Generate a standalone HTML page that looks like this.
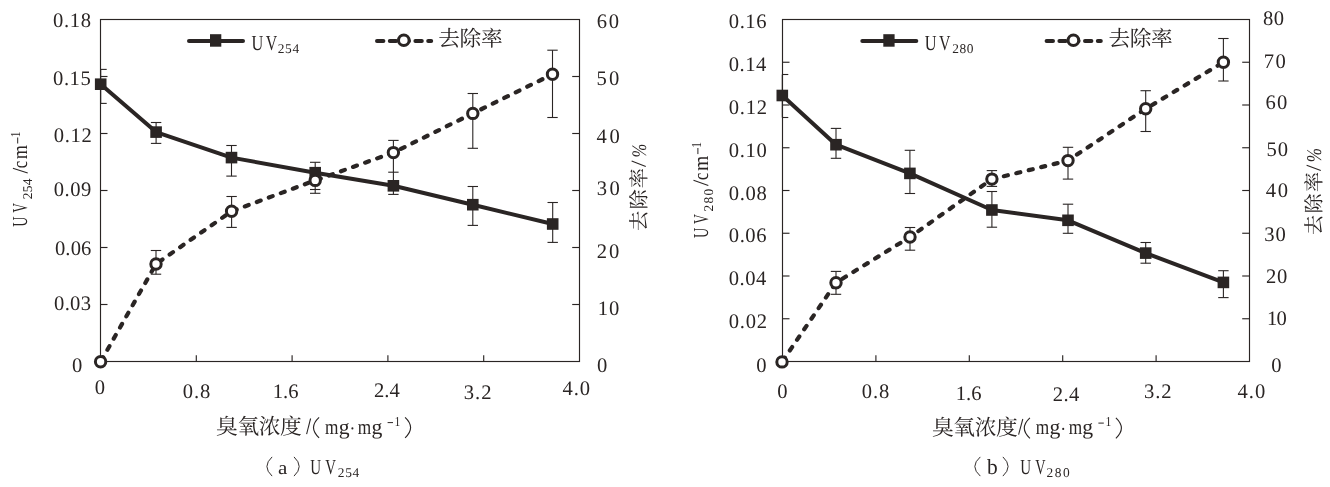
<!DOCTYPE html>
<html lang="zh"><head><meta charset="utf-8"><title>UV254 / UV280</title>
<style>html,body{margin:0;padding:0;background:#fff}svg{display:block;will-change:transform}text{font-family:"Liberation Serif",serif;fill:#2a2524;stroke:none;white-space:pre;text-rendering:geometricPrecision}text.cjk{font-family:"Liberation Serif","Noto Serif CJK SC",serif}</style></head><body>
<svg role="img" aria-label="UV254, UV280 and removal rate versus ozone dose" width="1330" height="487" viewBox="0 0 1330 487" stroke="#2a2524" fill="#2a2524">
<rect x="0" y="0" width="1330" height="487" fill="#fff" stroke="none"/>
<g id="chart-a">
<rect x="100.5" y="19.5" width="479" height="342" fill="none" stroke-width="1.15"/>
<line x1="100.5" y1="76.5" x2="107.5" y2="76.5" stroke-width="1.15"/>
<line x1="572.2" y1="76.5" x2="579.5" y2="76.5" stroke-width="1.15"/>
<line x1="100.5" y1="133.5" x2="107.5" y2="133.5" stroke-width="1.15"/>
<line x1="572.2" y1="133.5" x2="579.5" y2="133.5" stroke-width="1.15"/>
<line x1="100.5" y1="190.5" x2="107.5" y2="190.5" stroke-width="1.15"/>
<line x1="572.2" y1="190.5" x2="579.5" y2="190.5" stroke-width="1.15"/>
<line x1="100.5" y1="247.5" x2="107.5" y2="247.5" stroke-width="1.15"/>
<line x1="572.2" y1="247.5" x2="579.5" y2="247.5" stroke-width="1.15"/>
<line x1="100.5" y1="304.5" x2="107.5" y2="304.5" stroke-width="1.15"/>
<line x1="572.2" y1="304.5" x2="579.5" y2="304.5" stroke-width="1.15"/>
<line x1="196.3" y1="361.5" x2="196.3" y2="355.3" stroke-width="1.15"/>
<line x1="292.1" y1="361.5" x2="292.1" y2="355.3" stroke-width="1.15"/>
<line x1="387.9" y1="361.5" x2="387.9" y2="355.3" stroke-width="1.15"/>
<line x1="483.7" y1="361.5" x2="483.7" y2="355.3" stroke-width="1.15"/>
<line x1="100.7" y1="69.4" x2="100.7" y2="103.4" stroke-width="1.1"/>
<line x1="100.7" y1="69.4" x2="106.7" y2="69.4" stroke-width="1.1"/>
<line x1="100.7" y1="103.4" x2="106.7" y2="103.4" stroke-width="1.1"/>
<line x1="156.1" y1="122.5" x2="156.1" y2="143.4" stroke-width="1.1"/>
<line x1="150.9" y1="122.5" x2="161.3" y2="122.5" stroke-width="1.1"/>
<line x1="150.9" y1="143.4" x2="161.3" y2="143.4" stroke-width="1.1"/>
<line x1="231.5" y1="145.5" x2="231.5" y2="176.1" stroke-width="1.1"/>
<line x1="226.3" y1="145.5" x2="236.7" y2="145.5" stroke-width="1.1"/>
<line x1="226.3" y1="176.1" x2="236.7" y2="176.1" stroke-width="1.1"/>
<line x1="315.2" y1="162.3" x2="315.2" y2="193.3" stroke-width="1.1"/>
<line x1="310" y1="162.3" x2="320.4" y2="162.3" stroke-width="1.1"/>
<line x1="310" y1="189.5" x2="320.4" y2="189.5" stroke-width="1.1"/>
<line x1="310" y1="193.3" x2="320.4" y2="193.3" stroke-width="1.1"/>
<line x1="393.4" y1="140.4" x2="393.4" y2="194.4" stroke-width="1.1"/>
<line x1="388.2" y1="140.4" x2="398.6" y2="140.4" stroke-width="1.1"/>
<line x1="388.2" y1="172.2" x2="398.6" y2="172.2" stroke-width="1.1"/>
<line x1="388.2" y1="194.4" x2="398.6" y2="194.4" stroke-width="1.1"/>
<line x1="472.8" y1="186.5" x2="472.8" y2="225.4" stroke-width="1.1"/>
<line x1="467.6" y1="186.5" x2="478" y2="186.5" stroke-width="1.1"/>
<line x1="467.6" y1="225.4" x2="478" y2="225.4" stroke-width="1.1"/>
<line x1="552.7" y1="202.5" x2="552.7" y2="242.4" stroke-width="1.1"/>
<line x1="547.5" y1="202.5" x2="557.9" y2="202.5" stroke-width="1.1"/>
<line x1="547.5" y1="242.4" x2="557.9" y2="242.4" stroke-width="1.1"/>
<line x1="156" y1="250.5" x2="156" y2="274.2" stroke-width="1.1"/>
<line x1="150.8" y1="250.5" x2="161.2" y2="250.5" stroke-width="1.1"/>
<line x1="150.8" y1="274.2" x2="161.2" y2="274.2" stroke-width="1.1"/>
<line x1="231.6" y1="196.5" x2="231.6" y2="227.4" stroke-width="1.1"/>
<line x1="226.4" y1="196.5" x2="236.8" y2="196.5" stroke-width="1.1"/>
<line x1="226.4" y1="227.4" x2="236.8" y2="227.4" stroke-width="1.1"/>
<line x1="472.8" y1="93.5" x2="472.8" y2="148.3" stroke-width="1.1"/>
<line x1="467.6" y1="93.5" x2="478" y2="93.5" stroke-width="1.1"/>
<line x1="467.6" y1="148.3" x2="478" y2="148.3" stroke-width="1.1"/>
<line x1="552.5" y1="50.2" x2="552.5" y2="117.5" stroke-width="1.1"/>
<line x1="547.3" y1="50.2" x2="557.7" y2="50.2" stroke-width="1.1"/>
<line x1="547.3" y1="117.5" x2="557.7" y2="117.5" stroke-width="1.1"/>
<polyline fill="none" stroke-width="4.0" stroke-linejoin="round" points="100.7,84.2 156.1,132.1 231.5,157.6 315.2,172.7 393.4,185.8 472.8,204.7 552.7,224"/>
<rect x="94.9" y="78.4" width="11.6" height="11.6" fill="#2a2524" stroke="none"/>
<rect x="150.3" y="126.3" width="11.6" height="11.6" fill="#2a2524" stroke="none"/>
<rect x="225.7" y="151.8" width="11.6" height="11.6" fill="#2a2524" stroke="none"/>
<rect x="309.4" y="166.9" width="11.6" height="11.6" fill="#2a2524" stroke="none"/>
<rect x="387.6" y="180" width="11.6" height="11.6" fill="#2a2524" stroke="none"/>
<rect x="467" y="198.9" width="11.6" height="11.6" fill="#2a2524" stroke="none"/>
<rect x="546.9" y="218.2" width="11.6" height="11.6" fill="#2a2524" stroke="none"/>
<polyline fill="none" stroke-width="4.2" stroke-dasharray="4.1 8.7" stroke-dashoffset="-1.05" stroke-linecap="round" points="100.6,361.8 156,264 231.6,211.3 315.2,180.4 393.4,152.6 472.8,113.4 552.5,74.3"/>
<circle cx="100.6" cy="361.8" r="5.2" fill="#fff" stroke-width="3"/>
<circle cx="156" cy="264" r="5.2" fill="#fff" stroke-width="3"/>
<circle cx="231.6" cy="211.3" r="5.2" fill="#fff" stroke-width="3"/>
<circle cx="315.2" cy="180.4" r="5.2" fill="#fff" stroke-width="3"/>
<circle cx="393.4" cy="152.6" r="5.2" fill="#fff" stroke-width="3"/>
<circle cx="472.8" cy="113.4" r="5.2" fill="#fff" stroke-width="3"/>
<circle cx="552.5" cy="74.3" r="5.2" fill="#fff" stroke-width="3"/>
<line x1="189" y1="40.9" x2="243" y2="40.9" stroke-width="4" stroke-linecap="round"/>
<rect x="210" y="34.2" width="11.3" height="12.5" stroke="none"/>
<text font-size="21.4" stroke="#2a2524" stroke-width="0.55" transform="translate(251.46 49.9) scale(0.7626 1)" x="0" y="0">U</text>
<text font-size="21.4" stroke="#2a2524" stroke-width="0.6" transform="translate(265.82 49.9) scale(0.7413 1)" x="0" y="0">V</text>
<text font-size="13.4" x="277.81 285.11 292.41" y="53.1">254</text>
<line x1="377" y1="40.9" x2="431.2" y2="40.9" stroke-width="4" stroke-dasharray="6.4 6.4" stroke-linecap="round"/>
<circle cx="403.8" cy="40.2" r="5.3" fill="#fff" stroke-width="3.0"/>
<g stroke="none">
<text class="cjk" font-size="21.7" x="438.21 459.56 480.91" y="46">去除率</text>
</g>
<text font-size="20.6" x="53.12 64.06 69.84 80.78" y="27.2">0.18</text>
<text font-size="20.6" x="53.12 63.93 69.59 80.4" y="84.9">0.15</text>
<text font-size="20.6" x="53.72 64.71 70.55 81.54" y="141.9">0.12</text>
<text font-size="20.6" x="53.72 64.54 70.22 81.04" y="195.5">0.09</text>
<text font-size="20.6" x="54.92 65.36 70.66 81.11" y="254.9">0.06</text>
<text font-size="20.6" x="54.02 64.63 70.09 80.7" y="309.8">0.03</text>
<text font-size="20.6" x="72.02" y="371.9">0</text>
<text font-size="20.6" x="596.81 608.68" y="27.7">60</text>
<text font-size="20.6" x="596.5 608.98" y="85">50</text>
<text font-size="20.6" x="596.6 609.58" y="142.5">40</text>
<text font-size="20.6" x="596.81 609.58" y="194.8">30</text>
<text font-size="20.6" x="596.79 608.88" y="258.1">20</text>
<text font-size="20.6" x="597.79 608.88" y="314.6">10</text>
<text font-size="20.6" x="597.12" y="371.9">0</text>
<text font-size="20.6" x="94.82" y="393.5">0</text>
<text font-size="20.6" x="182.82 193.93 199.88" y="397.8">0.8</text>
<text font-size="20.6" x="272.69 283.08 288.31" y="397.8">1.6</text>
<text font-size="20.6" x="373.89 384.33 389.62" y="397">2.4</text>
<text font-size="20.6" x="463.71 475.1 481.34" y="399">3.2</text>
<text font-size="20.6" x="562.5 573.72 579.78" y="395.1">4.0</text>
<g stroke="none">
<text class="cjk" font-size="21.7" x="216.08 237.38 258.68 279.98" y="434.1">臭氧浓度</text>
</g>
<line x1="306.6" y1="434.1" x2="310.6" y2="418.5" stroke-width="1.05"/>
<path fill="none" stroke-width="1.15" d="M319.1 417.3 Q307.9 427.6 319.1 437.9"/>
<text font-size="21.4" stroke="#2a2524" stroke-width="0.44" transform="translate(325.04 433.5) scale(0.8070 1)" x="0" y="0">m</text>
<text font-size="21.4" transform="translate(338.67 433.5) scale(1.0136 1)" x="0" y="0">g</text>
<circle cx="352.4" cy="428.4" r="1.05" stroke="none"/>
<text font-size="21.4" stroke="#2a2524" stroke-width="0.44" transform="translate(357.84 433.5) scale(0.8070 1)" x="0" y="0">m</text>
<text font-size="21.4" transform="translate(371.47 433.5) scale(1.0136 1)" x="0" y="0">g</text>
<line x1="387.6" y1="422.6" x2="393" y2="422.6" stroke-width="1"/>
<text font-size="13.8" stroke="#2a2524" stroke-width="0.36" transform="translate(394.58 425.8) scale(0.8439 1)" x="0" y="0">1</text>
<path fill="none" stroke-width="1.15" d="M405.1 417.3 Q416.1 427.6 405.1 437.9"/>
<path fill="none" stroke-width="0.95" d="M272.1 456.9 Q261.7 466.5 272.1 476.1"/>
<text font-size="19" transform="translate(277.96 473.9) scale(1.1059 1)" x="0" y="0">a</text>
<path fill="none" stroke-width="0.95" d="M294 456.9 Q304.4 466.5 294 476.1"/>
<text font-size="21.4" stroke="#2a2524" stroke-width="0.69" transform="translate(310.29 473.9) scale(0.7008 1)" x="0" y="0">U</text>
<text font-size="21.4" stroke="#2a2524" stroke-width="0.7" transform="translate(325.13 473.9) scale(0.6945 1)" x="0" y="0">V</text>
<text font-size="13.4" x="337.81 345.16 352.51" y="476.9">254</text>
<g transform="translate(27.2 0) rotate(-90)">
<text font-size="21.4" stroke="#2a2524" stroke-width="0.78" transform="translate(-226.7 0) scale(0.6595 1)" x="0" y="0">U</text>
<text font-size="21.4" stroke="#2a2524" stroke-width="0.8" transform="translate(-212.65 0) scale(0.6278 1)" x="0" y="0">V</text>
<text font-size="13.4" x="-199.19 -192.19 -185.19" y="4.9">254</text>
<line x1="-173.1" y1="0.5" x2="-168.2" y2="-14.3" stroke-width="1.05"/>
<text font-size="21.4" stroke="#2a2524" stroke-width="0.52" transform="translate(-168.13 0) scale(0.7726 1)" x="0" y="0">c</text>
<text font-size="21.4" stroke="#2a2524" stroke-width="0.34" transform="translate(-159.18 0) scale(0.8511 1)" x="0" y="0">m</text>
<line x1="-143.5" y1="-9.5" x2="-137.5" y2="-9.5" stroke-width="1"/>
<text font-size="13.8" stroke="#2a2524" stroke-width="0.41" transform="translate(-137.3 -6.8) scale(0.8233 1)" x="0" y="0">1</text>
</g>
<g transform="translate(646.25 0) rotate(-90)">
<g stroke="none">
<text class="cjk" font-size="20.2" x="-231.02 -209.62 -188.22" y="0">去除率</text>
</g>
<line x1="-166.5" y1="-0.5" x2="-160.9" y2="-14.6" stroke-width="1.05"/>
<text font-size="20.6" font-style="italic" stroke="#2a2524" stroke-width="0.45" transform="translate(-157.55 -0.2) scale(0.8037 1)" x="0" y="0">%</text>
</g>
</g>
<g id="chart-b">
<rect x="782.5" y="19.5" width="467" height="342" fill="none" stroke-width="1.15"/>
<line x1="782.5" y1="62.25" x2="789.5" y2="62.25" stroke-width="1.15"/>
<line x1="1242.2" y1="62.25" x2="1249.5" y2="62.25" stroke-width="1.15"/>
<line x1="782.5" y1="105" x2="789.5" y2="105" stroke-width="1.15"/>
<line x1="1242.2" y1="105" x2="1249.5" y2="105" stroke-width="1.15"/>
<line x1="782.5" y1="147.75" x2="789.5" y2="147.75" stroke-width="1.15"/>
<line x1="1242.2" y1="147.75" x2="1249.5" y2="147.75" stroke-width="1.15"/>
<line x1="782.5" y1="190.5" x2="789.5" y2="190.5" stroke-width="1.15"/>
<line x1="1242.2" y1="190.5" x2="1249.5" y2="190.5" stroke-width="1.15"/>
<line x1="782.5" y1="233.25" x2="789.5" y2="233.25" stroke-width="1.15"/>
<line x1="1242.2" y1="233.25" x2="1249.5" y2="233.25" stroke-width="1.15"/>
<line x1="782.5" y1="276" x2="789.5" y2="276" stroke-width="1.15"/>
<line x1="1242.2" y1="276" x2="1249.5" y2="276" stroke-width="1.15"/>
<line x1="782.5" y1="318.75" x2="789.5" y2="318.75" stroke-width="1.15"/>
<line x1="1242.2" y1="318.75" x2="1249.5" y2="318.75" stroke-width="1.15"/>
<line x1="875.9" y1="361.5" x2="875.9" y2="355.3" stroke-width="1.15"/>
<line x1="969.3" y1="361.5" x2="969.3" y2="355.3" stroke-width="1.15"/>
<line x1="1062.7" y1="361.5" x2="1062.7" y2="355.3" stroke-width="1.15"/>
<line x1="1156.1" y1="361.5" x2="1156.1" y2="355.3" stroke-width="1.15"/>
<line x1="782.3" y1="74.5" x2="782.3" y2="117.5" stroke-width="1.1"/>
<line x1="782.3" y1="74.5" x2="788.3" y2="74.5" stroke-width="1.1"/>
<line x1="782.3" y1="117.5" x2="788.3" y2="117.5" stroke-width="1.1"/>
<line x1="836" y1="128.4" x2="836" y2="158.3" stroke-width="1.1"/>
<line x1="830.8" y1="128.4" x2="841.2" y2="128.4" stroke-width="1.1"/>
<line x1="830.8" y1="158.3" x2="841.2" y2="158.3" stroke-width="1.1"/>
<line x1="909.9" y1="150.3" x2="909.9" y2="193.5" stroke-width="1.1"/>
<line x1="904.7" y1="150.3" x2="915.1" y2="150.3" stroke-width="1.1"/>
<line x1="904.7" y1="193.5" x2="915.1" y2="193.5" stroke-width="1.1"/>
<line x1="991.9" y1="191.5" x2="991.9" y2="227.2" stroke-width="1.1"/>
<line x1="986.7" y1="191.5" x2="997.1" y2="191.5" stroke-width="1.1"/>
<line x1="986.7" y1="227.2" x2="997.1" y2="227.2" stroke-width="1.1"/>
<line x1="1068" y1="204.2" x2="1068" y2="233.3" stroke-width="1.1"/>
<line x1="1062.8" y1="204.2" x2="1073.2" y2="204.2" stroke-width="1.1"/>
<line x1="1062.8" y1="233.3" x2="1073.2" y2="233.3" stroke-width="1.1"/>
<line x1="1145.7" y1="242.5" x2="1145.7" y2="263.2" stroke-width="1.1"/>
<line x1="1140.5" y1="242.5" x2="1150.9" y2="242.5" stroke-width="1.1"/>
<line x1="1140.5" y1="263.2" x2="1150.9" y2="263.2" stroke-width="1.1"/>
<line x1="1223.4" y1="270.7" x2="1223.4" y2="297.6" stroke-width="1.1"/>
<line x1="1218.2" y1="270.7" x2="1228.6" y2="270.7" stroke-width="1.1"/>
<line x1="1218.2" y1="297.6" x2="1228.6" y2="297.6" stroke-width="1.1"/>
<line x1="836" y1="271.4" x2="836" y2="294.3" stroke-width="1.1"/>
<line x1="830.8" y1="271.4" x2="841.2" y2="271.4" stroke-width="1.1"/>
<line x1="830.8" y1="294.3" x2="841.2" y2="294.3" stroke-width="1.1"/>
<line x1="910" y1="227.5" x2="910" y2="250.2" stroke-width="1.1"/>
<line x1="904.8" y1="227.5" x2="915.2" y2="227.5" stroke-width="1.1"/>
<line x1="904.8" y1="250.2" x2="915.2" y2="250.2" stroke-width="1.1"/>
<line x1="991.9" y1="170.6" x2="991.9" y2="186.4" stroke-width="1.1"/>
<line x1="986.7" y1="170.6" x2="997.1" y2="170.6" stroke-width="1.1"/>
<line x1="986.7" y1="186.4" x2="997.1" y2="186.4" stroke-width="1.1"/>
<line x1="1068" y1="147.3" x2="1068" y2="179.1" stroke-width="1.1"/>
<line x1="1062.8" y1="147.3" x2="1073.2" y2="147.3" stroke-width="1.1"/>
<line x1="1062.8" y1="179.1" x2="1073.2" y2="179.1" stroke-width="1.1"/>
<line x1="1145.7" y1="90.7" x2="1145.7" y2="131.5" stroke-width="1.1"/>
<line x1="1140.5" y1="90.7" x2="1150.9" y2="90.7" stroke-width="1.1"/>
<line x1="1140.5" y1="131.5" x2="1150.9" y2="131.5" stroke-width="1.1"/>
<line x1="1223.4" y1="38.5" x2="1223.4" y2="81" stroke-width="1.1"/>
<line x1="1218.2" y1="38.5" x2="1228.6" y2="38.5" stroke-width="1.1"/>
<line x1="1218.2" y1="81" x2="1228.6" y2="81" stroke-width="1.1"/>
<polyline fill="none" stroke-width="4.0" stroke-linejoin="round" points="782.3,95.5 836,144.7 909.9,173.4 991.9,210 1068,220.3 1145.7,253.1 1223.4,282.4"/>
<rect x="776.5" y="89.7" width="11.6" height="11.6" fill="#2a2524" stroke="none"/>
<rect x="830.2" y="138.9" width="11.6" height="11.6" fill="#2a2524" stroke="none"/>
<rect x="904.1" y="167.6" width="11.6" height="11.6" fill="#2a2524" stroke="none"/>
<rect x="986.1" y="204.2" width="11.6" height="11.6" fill="#2a2524" stroke="none"/>
<rect x="1062.2" y="214.5" width="11.6" height="11.6" fill="#2a2524" stroke="none"/>
<rect x="1139.9" y="247.3" width="11.6" height="11.6" fill="#2a2524" stroke="none"/>
<rect x="1217.6" y="276.6" width="11.6" height="11.6" fill="#2a2524" stroke="none"/>
<polyline fill="none" stroke-width="4.2" stroke-dasharray="4.1 8.7" stroke-dashoffset="-1.05" stroke-linecap="round" points="782,361.9 836,282.7 910,237 991.9,179.1 1068,160.6 1145.7,108.8 1223.4,62.2"/>
<circle cx="782" cy="361.9" r="5.2" fill="#fff" stroke-width="3"/>
<circle cx="836" cy="282.7" r="5.2" fill="#fff" stroke-width="3"/>
<circle cx="910" cy="237" r="5.2" fill="#fff" stroke-width="3"/>
<circle cx="991.9" cy="179.1" r="5.2" fill="#fff" stroke-width="3"/>
<circle cx="1068" cy="160.6" r="5.2" fill="#fff" stroke-width="3"/>
<circle cx="1145.7" cy="108.8" r="5.2" fill="#fff" stroke-width="3"/>
<circle cx="1223.4" cy="62.2" r="5.2" fill="#fff" stroke-width="3"/>
<line x1="862.3" y1="40.9" x2="916.3" y2="40.9" stroke-width="4" stroke-linecap="round"/>
<rect x="883.3" y="34.2" width="11.3" height="12.5" stroke="none"/>
<text font-size="21.4" stroke="#2a2524" stroke-width="0.55" transform="translate(924.76 49.9) scale(0.7626 1)" x="0" y="0">U</text>
<text font-size="21.4" stroke="#2a2524" stroke-width="0.6" transform="translate(939.12 49.9) scale(0.7413 1)" x="0" y="0">V</text>
<text font-size="13.4" x="952.31 959.56 966.81" y="53.1">280</text>
<line x1="1046.6" y1="40.9" x2="1100.8" y2="40.9" stroke-width="4" stroke-dasharray="6.4 6.4" stroke-linecap="round"/>
<circle cx="1073.4" cy="40.3" r="5.3" fill="#fff" stroke-width="3.0"/>
<g stroke="none">
<text class="cjk" font-size="21.7" x="1108.61 1129.81 1151.01" y="46.3">去除率</text>
</g>
<text font-size="20.6" x="728.82 739.66 745.36 756.21" y="27.9">0.16</text>
<text font-size="20.6" x="728.82 739.57 745.17 755.92" y="70.8">0.14</text>
<text font-size="20.6" x="728.82 739.84 745.71 756.74" y="113.7">0.12</text>
<text font-size="20.6" x="728.82 739.72 745.48 756.38" y="156.6">0.10</text>
<text font-size="20.6" x="728.82 739.72 745.48 756.38" y="199.5">0.08</text>
<text font-size="20.6" x="728.82 739.66 745.36 756.21" y="242.4">0.06</text>
<text font-size="20.6" x="728.82 739.57 745.17 755.92" y="285.3">0.04</text>
<text font-size="20.6" x="728.82 739.84 745.71 756.74" y="328.2">0.02</text>
<text font-size="20.6" x="756.22" y="371.8">0</text>
<text font-size="20.6" x="1262.92 1273.68" y="25.2">80</text>
<text font-size="20.6" x="1263.84 1275.38" y="68.1">70</text>
<text font-size="20.6" x="1265.61 1276.88" y="108.7">60</text>
<text font-size="20.6" x="1266.4 1277.78" y="155.7">50</text>
<text font-size="20.6" x="1265.7 1277.78" y="196.9">40</text>
<text font-size="20.6" x="1264.21 1275.38" y="240.9">30</text>
<text font-size="20.6" x="1266.09 1276.88" y="282.8">20</text>
<text font-size="20.6" x="1267.09 1276.48" y="324.9">10</text>
<text font-size="20.6" x="1271.22" y="372">0</text>
<text font-size="20.6" x="777.22" y="397.9">0</text>
<text font-size="20.6" x="861.82 873.02 879.08" y="397.5">0.8</text>
<text font-size="20.6" x="955.69 966.03 971.21" y="399.9">1.6</text>
<text font-size="20.6" x="1052.69 1063.43 1069.02" y="401">2.4</text>
<text font-size="20.6" x="1144.11 1155.3 1161.34" y="397.5">3.2</text>
<text font-size="20.6" x="1237.6 1248.82 1254.88" y="397.9">4.0</text>
<g stroke="none">
<text class="cjk" font-size="21.7" x="931.98 953.33 974.68 996.03" y="434.6">臭氧浓度</text>
</g>
<line x1="1018.6" y1="434.6" x2="1022.8" y2="419" stroke-width="1.05"/>
<path fill="none" stroke-width="1.15" d="M1029.9 417.8 Q1018.7 428.1 1029.9 438.4"/>
<text font-size="21.4" stroke="#2a2524" stroke-width="0.44" transform="translate(1035.84 434) scale(0.8070 1)" x="0" y="0">m</text>
<text font-size="21.4" transform="translate(1049.47 434) scale(1.0136 1)" x="0" y="0">g</text>
<circle cx="1063.2" cy="428.9" r="1.05" stroke="none"/>
<text font-size="21.4" stroke="#2a2524" stroke-width="0.44" transform="translate(1068.64 434) scale(0.8070 1)" x="0" y="0">m</text>
<text font-size="21.4" transform="translate(1082.27 434) scale(1.0136 1)" x="0" y="0">g</text>
<line x1="1098.4" y1="423.1" x2="1103.8" y2="423.1" stroke-width="1"/>
<text font-size="13.8" stroke="#2a2524" stroke-width="0.36" transform="translate(1105.38 426.3) scale(0.8439 1)" x="0" y="0">1</text>
<path fill="none" stroke-width="1.15" d="M1115.9 417.8 Q1126.9 428.1 1115.9 438.4"/>
<path fill="none" stroke-width="0.95" d="M980.3 456.9 Q969.3 466.5 980.3 476.1"/>
<text font-size="21.6" transform="translate(987.1 473.9) scale(0.9922 1)" x="0" y="0">b</text>
<path fill="none" stroke-width="0.95" d="M1002.9 456.9 Q1013.3 466.5 1002.9 476.1"/>
<text font-size="21.4" stroke="#2a2524" stroke-width="0.69" transform="translate(1020.29 473.9) scale(0.7008 1)" x="0" y="0">U</text>
<text font-size="21.4" stroke="#2a2524" stroke-width="0.76" transform="translate(1035.14 473.9) scale(0.6678 1)" x="0" y="0">V</text>
<text font-size="13.4" x="1046.51 1054.76 1063.01" y="477.3">280</text>
<g transform="translate(707.8 0) rotate(-90)">
<text font-size="21.4" stroke="#2a2524" stroke-width="0.78" transform="translate(-238 0) scale(0.6595 1)" x="0" y="0">U</text>
<text font-size="21.4" stroke="#2a2524" stroke-width="0.8" transform="translate(-223.95 0) scale(0.6344 1)" x="0" y="0">V</text>
<text font-size="13.4" x="-211.39 -203.44 -195.49" y="5.3">280</text>
<line x1="-185.5" y1="0.5" x2="-180.3" y2="-14.3" stroke-width="1.05"/>
<text font-size="21.4" stroke="#2a2524" stroke-width="0.55" transform="translate(-179.92 0) scale(0.7601 1)" x="0" y="0">c</text>
<text font-size="21.4" stroke="#2a2524" stroke-width="0.2" transform="translate(-171.11 0) scale(0.9141 1)" x="0" y="0">m</text>
<line x1="-154.1" y1="-9.9" x2="-148" y2="-9.9" stroke-width="1"/>
<text font-size="13.8" stroke="#2a2524" stroke-width="0.41" transform="translate(-147.8 -7) scale(0.8233 1)" x="0" y="0">1</text>
</g>
<g transform="translate(1321.15 0) rotate(-90)">
<g stroke="none">
<text class="cjk" font-size="20.1" x="-235.02 -213.52 -192.02" y="0">去除率</text>
</g>
<line x1="-170.5" y1="-0.35" x2="-165.2" y2="-14.55" stroke-width="1.05"/>
<text font-size="21" font-style="italic" stroke="#2a2524" stroke-width="0.43" transform="translate(-162.18 0.25) scale(0.8149 1)" x="0" y="0">%</text>
</g>
</g>
</svg></body></html>
